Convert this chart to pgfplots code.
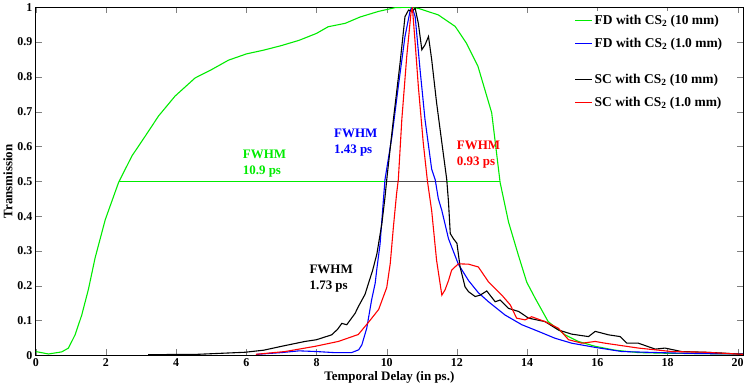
\documentclass[border=0pt]{standalone}
\usepackage{pgfplots}
\pgfplotsset{compat=1.18}
\usepackage{fontspec}
\setmainfont{Liberation Serif}
\definecolor{fdgreen}{RGB}{0,235,0}
\definecolor{fdblue}{RGB}{0,0,255}
\definecolor{scred}{RGB}{255,0,0}
\begin{document}
\begin{tikzpicture}
\begin{axis}[
    width=709pt, height=349pt, scale only axis,
    xmin=0, xmax=20.15, ymin=0, ymax=1,
    xtick={0,2,4,6,8,10,12,14,16,18,20},
    ytick={0,0.1,0.2,0.3,0.4,0.5,0.6,0.7,0.8,0.9,1},
    yticklabels={0,0.1,0.2,0.3,0.4,0.5,0.6,0.7,0.8,0.9,1},
    /pgf/number format/assume math mode=true,
    tick label style={font=\bfseries\fontsize{12}{14}\selectfont},
    label style={font=\bfseries\fontsize{13}{15}\selectfont},
    xlabel={Temporal Delay (in ps.)},
    ylabel={Transmission},
    xlabel style={yshift=2pt},
    ylabel style={yshift=-2pt},
    tick align=inside, major tick length=6pt,
    axis line style={line width=0.8pt},
    legend style={at={(0.978,0.99)}, anchor=north east, draw=white,
        font=\bfseries\fontsize{13.5}{15}\selectfont, row sep=8pt},
    legend cell align=left,
]
% FWHM markers (drawn first, under the curves)
\draw[fdgreen, line width=0.8pt] (axis cs:2.38,0.5) -- (axis cs:13.23,0.5);
\draw[black!70, line width=0.7pt] (axis cs:10.0,0.5) -- (axis cs:11.71,0.5);
\addplot[draw=fdgreen, line width=1.1pt] coordinates {
(0,0.011)(0.36,0.004)(0.74,0.01)(0.93,0.021)(1.12,0.059)(1.31,0.116)(1.5,0.19)
(1.69,0.28)(1.98,0.39)(2.36,0.497)(2.74,0.573)(3.12,0.63)(3.5,0.688)(3.97,0.745)
(4.54,0.797)(5.01,0.821)(5.49,0.848)(6,0.866)(6.5,0.877)(7,0.89)(7.5,0.905)
(8,0.925)(8.33,0.944)(8.82,0.954)(9.24,0.972)(9.76,0.988)(10.24,0.999)(10.6,1.0)
(10.9,0.997)(11.47,0.978)(11.95,0.945)(12.27,0.897)(12.6,0.83)(12.99,0.697)
(13.23,0.497)(13.47,0.383)(13.75,0.288)(13.99,0.21)(14.23,0.164)(14.6,0.097)
(15.08,0.059)(15.46,0.04)(15.94,0.026)(16.5,0.015)(17.17,0.008)(18,0.006)
(19,0.005)(20.15,0.004)};
\addlegendentry{FD with CS$_{\mathbf{2}}$ (10 mm)}
\addplot[draw=fdblue, line width=1.1pt] coordinates {
(6.3,0.003)(7,0.008)(7.5,0.013)(8,0.011)(8.5,0.008)(9.0,0.008)(9.2,0.016)
(9.29,0.03)(9.43,0.078)(9.57,0.16)(9.67,0.207)(9.72,0.25)(9.81,0.32)(9.9,0.44)
(9.95,0.505)(10.15,0.63)(10.33,0.773)(10.52,0.916)(10.67,0.992)(10.72,1.0)
(10.81,0.973)(10.95,0.82)(11.09,0.678)(11.28,0.535)(11.38,0.505)(11.47,0.45)
(11.57,0.416)(11.76,0.335)(12.04,0.262)(12.33,0.215)(12.61,0.18)(12.9,0.154)
(13.37,0.116)(13.85,0.088)(14.32,0.069)(14.8,0.049)(15.27,0.035)(15.94,0.023)
(16.7,0.011)(18.1,0.007)(19,0.005)(20.15,0.004)};
\addlegendentry{FD with CS$_{\mathbf{2}}$ (1.0 mm)}
\addlegendimage{draw=white}
\addlegendentry{\ }
\addplot[draw=black, line width=1.1pt] coordinates {
(3.2,0.002)(4.6,0.003)(5.97,0.009)(6.5,0.015)(7.0,0.026)(7.67,0.04)(8.0,0.045)
(8.43,0.059)(8.6,0.075)(8.72,0.092)(8.86,0.088)(9.1,0.121)(9.19,0.14)(9.38,0.175)
(9.48,0.207)(9.6,0.245)(9.72,0.292)(9.86,0.378)(9.95,0.454)(10.0,0.505)
(10.19,0.678)(10.38,0.84)(10.52,0.973)(10.62,0.992)(10.71,0.988)(10.81,0.997)
(10.9,0.954)(11.0,0.878)(11.09,0.892)(11.19,0.916)(11.28,0.85)(11.42,0.726)
(11.57,0.611)(11.71,0.505)(11.76,0.44)(11.81,0.35)(11.9,0.335)(12.0,0.322)
(12.09,0.254)(12.23,0.197)(12.33,0.183)(12.52,0.169)(12.66,0.173)(12.85,0.185)
(13.09,0.154)(13.23,0.159)(13.47,0.135)(13.76,0.126)(14.04,0.107)(14.51,0.097)
(14.89,0.073)(15.27,0.061)(15.75,0.054)(15.94,0.069)(16.32,0.059)(16.65,0.054)
(16.84,0.035)(17.17,0.035)(17.65,0.018)(17.93,0.021)(18.4,0.011)(19.07,0.009)
(19.5,0.007)(20.15,0.003)};
\addlegendentry{SC with CS$_{\mathbf{2}}$ (10 mm)}
\addplot[draw=scred, line width=1.1pt] coordinates {
(6.27,0.003)(7.1,0.011)(7.96,0.026)(8.62,0.04)(9.19,0.06)(9.48,0.095)(9.77,0.132)
(10.0,0.195)(10.1,0.264)(10.19,0.369)(10.28,0.464)(10.33,0.505)(10.43,0.678)
(10.57,0.859)(10.69,0.983)(10.73,1.0)(10.81,0.897)(10.9,0.773)(11.04,0.611)
(11.16,0.5)(11.28,0.416)(11.42,0.273)(11.57,0.173)(11.66,0.188)(11.76,0.215)
(11.85,0.245)(12.04,0.263)(12.33,0.262)(12.61,0.254)(12.9,0.211)(13.28,0.173)
(13.52,0.145)(13.7,0.107)(13.94,0.102)(14.13,0.111)(14.51,0.097)(14.89,0.078)
(15.18,0.045)(15.56,0.035)(15.94,0.04)(16.22,0.035)(17.17,0.021)(18.12,0.011)
(19.07,0.009)(20.15,0.003)};
\addlegendentry{SC with CS$_{\mathbf{2}}$ (1.0 mm)}
\node[text=fdgreen, anchor=north west, align=left, font=\bfseries\fontsize{13}{16}\selectfont] at (axis cs:5.8,0.6) {FWHM\\10.9 ps};
\node[text=fdblue, anchor=north west, align=left, font=\bfseries\fontsize{13}{16}\selectfont] at (axis cs:8.4,0.66) {FWHM\\1.43 ps};
\node[text=scred, anchor=north west, align=left, font=\bfseries\fontsize{13}{16}\selectfont] at (axis cs:11.9,0.625) {FWHM\\0.93 ps};
\node[text=black, anchor=north west, align=left, font=\bfseries\fontsize{13}{16}\selectfont] at (axis cs:7.7,0.27) {FWHM\\1.73 ps};
\end{axis}
\end{tikzpicture}
\end{document}
